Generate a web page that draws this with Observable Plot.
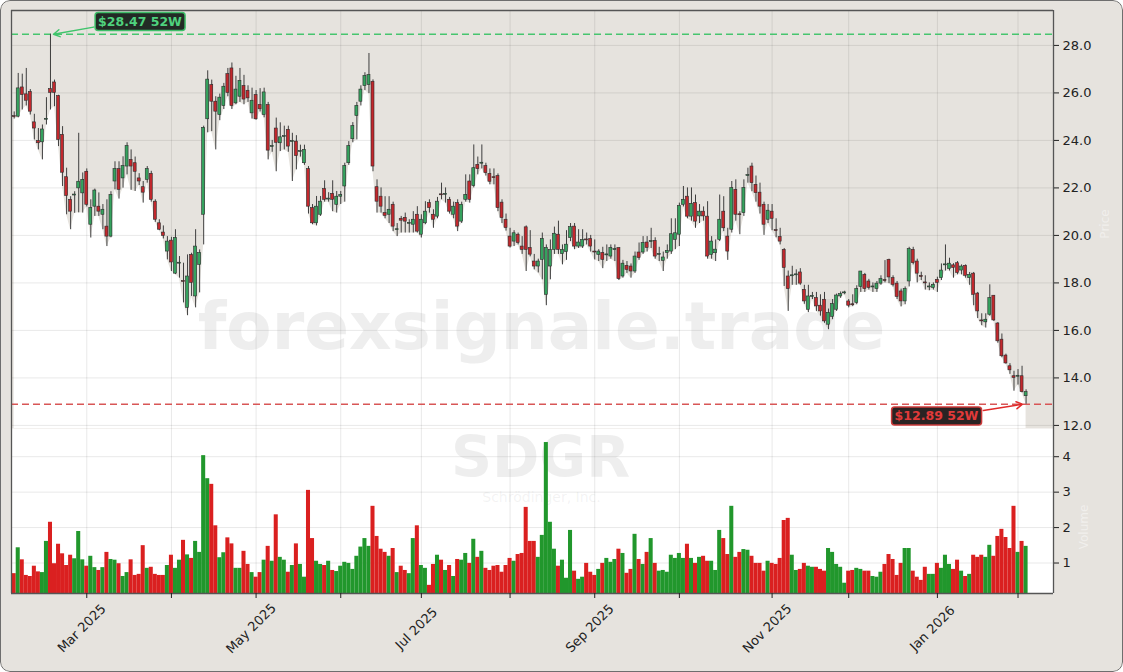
<!DOCTYPE html>
<html>
<head>
<meta charset="utf-8">
<script src="https://cdn.jsdelivr.net/npm/d3@7"></script>
<script src="https://cdn.jsdelivr.net/npm/@observablehq/plot@0.6"></script>
<style>
  html, body { margin: 0; padding: 0; background: #ffffff; }
  #fig { position: relative; width: 1123px; height: 672px; background: #e6e3de; border-radius: 10px; overflow: hidden; font-family: "DejaVu Sans", sans-serif; }
  #price, #vol { position: absolute; left: 0; }
  #price { top: 0; }
  #vol { top: 428px; }
  #border { position: absolute; left: 0; top: 0; width: 1123px; height: 672px; box-sizing: border-box; border: 1px solid #6e6e6e; border-radius: 10px; pointer-events: none; }
  .faint { position: absolute; color: rgba(255,255,255,0.45); font-size: 12px; transform: rotate(-90deg); transform-origin: center; white-space: nowrap; }
</style>
</head>
<body>
<div id="fig">
  <div id="price"></div>
  <div id="vol"></div>
  <div class="faint" style="left:1090px; top:217px;">Price</div>
  <div class="faint" style="left:1062px; top:520px;">Volume</div>
  <div id="border"></div>
</div>
<script>
// ---------------- DATA ----------------
const ticker = "SDGR";
const company = "Schrödinger, Inc.";
const firstDay = "2025-02-04";
const lastDay = "2026-02-04";
const holidays = ["2025-02-17","2025-04-18","2025-05-26","2025-06-19","2025-07-04","2025-09-01","2025-11-27","2025-12-25","2026-01-01","2026-01-19"];

const opens = [25.02,25.0,26.23,25.94,26.04,24.76,23.97,23.92,24.87,26.16,
26.44,25.87,24.23,22.45,21.5,21.68,21.98,21.77,22.68,20.45,
21.21,21.21,20.87,20.37,19.95,22.27,22.79,22.4,22.9,23.18,
23.04,22.4,22.03,22.34,22.59,21.42,20.51,20.12,19.32,19.78,
18.39,18.81,18.08,16.95,19.18,17.43,18.76,20.87,24.89,26.33,
25.63,25.07,25.45,26.79,27.03,25.56,25.84,26.29,26.09,25.14,
25.91,25.49,25.07,25.49,23.72,24.5,23.88,24.14,24.44,23.93,
23.95,23.51,23.04,22.79,21.15,20.51,20.87,21.95,21.51,21.75,
21.29,21.63,22.06,23.04,24.05,25.03,25.63,26.29,26.33,26.47,
22.03,21.63,20.94,20.87,21.29,20.22,20.7,20.74,20.49,20.45,
20.87,20.03,20.51,21.36,20.87,20.79,21.73,21.71,21.5,20.87,
21.36,20.58,21.5,22.27,22.08,22.97,23.02,22.92,22.59,22.45,
22.5,21.38,20.66,19.95,19.74,20.03,19.53,20.34,19.47,18.9,
18.69,18.97,17.5,18.69,19.39,20.03,19.21,19.3,19.89,20.37,
19.53,19.53,19.83,19.85,19.32,19.18,19.26,19.16,19.11,19.38,
19.47,18.27,18.72,18.69,18.48,19.28,19.28,19.7,19.72,19.77,
19.18,18.93,19.26,19.32,19.81,20.03,21.29,21.63,20.79,21.36,
20.8,21.0,20.79,19.18,19.25,19.81,21.0,19.95,20.24,21.92,
20.89,20.94,22.5,22.9,22.13,21.8,21.29,20.66,21.0,20.22,
19.93,19.39,18.27,18.28,18.32,18.44,17.71,16.87,17.41,17.36,
17.04,17.29,16.24,16.57,16.87,17.43,17.56,17.22,17.1,17.16,
17.83,18.34,18.06,17.81,17.74,17.97,18.12,18.97,18.2,17.97,
17.64,17.22,18.06,19.39,18.9,18.29,18.02,17.81,17.79,18.13,
18.2,18.74,18.58,18.74,18.83,18.52,18.72,18.2,18.39,17.55,
16.42,16.34,16.66,17.46,16.29,15.61,14.94,14.49,14.07,14.05,
14.07,13.23];

const highs = [25.2,26.82,26.79,27.03,26.14,25.1,24.5,24.65,25.8,28.47,
26.54,25.9,24.58,22.83,21.63,21.84,24.3,22.63,22.8,21.5,
21.95,21.79,21.3,21.5,21.84,23.1,23.1,23.31,23.9,23.6,
23.3,22.6,22.27,22.9,22.7,21.5,20.66,20.4,19.95,19.92,
20.24,19.11,18.83,19.18,19.25,20.24,19.39,24.6,26.93,26.54,
25.84,25.95,26.4,27.03,27.26,26.7,27.03,26.74,26.3,26.2,
26.1,26.18,26.2,25.6,24.0,24.94,24.74,24.6,24.6,24.3,
24.2,23.8,23.8,22.9,21.3,21.64,21.64,22.3,21.8,22.3,
21.85,21.85,23.04,23.95,24.75,25.6,26.3,26.85,27.66,26.55,
22.34,22.0,21.63,21.63,21.4,20.5,20.8,20.94,20.66,21.0,
21.21,20.87,21.42,21.5,21.08,21.6,22.2,22.0,21.6,21.4,
21.5,21.4,22.55,22.55,23.81,23.3,23.81,23.04,22.8,22.8,
22.59,21.5,20.9,20.3,20.2,20.1,19.95,20.4,20.2,19.2,
19.0,20.1,19.6,19.81,20.35,20.6,19.6,20.2,20.5,20.5,
20.24,20.24,20.1,20.0,19.81,19.4,19.5,19.6,19.6,19.6,
19.47,18.95,18.9,18.8,19.3,19.68,19.95,19.95,20.3,19.9,
19.5,19.3,19.6,20.7,20.7,21.36,22.06,22.0,22.0,21.7,
21.3,21.2,21.42,19.95,19.81,21.7,21.63,20.3,22.27,22.34,
21.0,22.34,22.83,23.04,22.5,22.2,21.4,21.3,21.3,20.7,
20.3,19.45,18.5,18.7,18.55,18.6,17.9,17.9,17.6,17.6,
17.5,17.6,16.9,17.3,17.53,17.62,17.65,17.3,17.5,17.88,
18.48,18.4,18.15,18.0,18.06,18.3,18.94,19.0,18.3,18.06,
17.74,17.83,19.5,19.5,19.0,18.45,18.3,18.0,18.0,18.24,
18.8,19.6,19.04,18.81,18.9,18.76,18.76,18.44,18.44,17.6,
16.7,16.7,17.92,17.46,16.33,15.85,15.0,14.6,14.28,14.35,
14.49,13.5];

const lows = [24.9,24.95,25.28,25.45,25.07,24.02,23.6,23.18,24.65,25.28,
25.42,23.74,22.06,20.87,20.24,20.93,20.95,20.94,21.2,19.89,
20.8,20.8,20.24,19.53,19.9,21.92,21.53,21.99,22.55,21.9,
21.85,22.1,21.36,22.2,21.4,20.55,20.2,19.85,18.97,18.48,
18.35,18.2,17.16,16.62,17.43,16.95,17.58,19.6,24.32,24.37,
23.6,24.83,25.3,25.84,25.3,25.5,25.6,25.5,25.6,24.9,
24.85,25.2,24.95,23.18,23.5,22.68,23.53,23.6,23.5,22.27,
22.76,23.3,22.95,20.9,20.45,20.4,20.8,21.4,21.4,21.0,
20.94,21.3,21.4,22.95,23.9,24.02,25.45,26.1,25.97,22.68,
20.94,20.94,20.7,20.5,20.16,19.95,20.1,20.1,20.1,20.1,
20.1,19.89,20.45,20.94,20.3,20.7,21.5,21.36,20.9,20.7,
20.16,20.5,21.4,21.36,22.0,22.55,22.8,22.5,22.13,22.13,
21.0,20.5,20.18,19.47,19.53,19.6,19.2,18.48,19.1,18.55,
18.42,18.13,17.04,18.13,19.2,19.2,18.76,18.95,19.74,19.4,
19.45,19.45,19.6,19.3,18.97,18.9,18.6,18.9,19.0,18.9,
18.1,18.2,18.4,18.2,18.4,18.95,19.2,19.3,19.45,19.0,
18.9,18.48,19.0,19.2,19.4,19.53,21.2,20.7,20.6,20.3,
20.5,20.6,19.0,19.0,18.9,19.74,20.16,18.95,20.1,20.6,
20.03,20.8,22.2,21.84,21.4,20.9,20.0,20.5,20.2,19.9,
19.6,17.85,16.8,17.9,17.9,17.9,17.1,16.75,17.3,16.8,
16.6,16.3,16.03,16.45,16.8,17.35,17.5,16.95,17.0,17.08,
17.6,17.6,17.7,17.6,17.6,17.9,18.0,17.97,17.83,17.3,
16.99,17.08,17.83,18.76,18.0,18.1,17.7,17.67,17.7,17.6,
18.1,18.5,18.5,18.2,18.34,18.34,18.2,17.9,17.04,16.5,
16.2,16.1,16.6,16.38,15.46,14.85,14.58,14.15,13.44,13.7,
13.37,12.89];

const closes = [24.98,26.19,25.91,25.67,25.21,24.5,23.88,24.46,24.91,26.0,
26.0,24.02,22.64,21.66,21.0,21.72,22.26,22.34,21.29,21.16,
21.89,21.0,21.08,19.95,21.7,22.79,21.92,22.92,23.76,22.9,
22.68,22.27,21.8,22.79,21.5,20.66,20.24,19.98,19.74,18.86,
19.89,18.85,18.04,18.27,18.0,19.53,19.26,24.53,26.56,25.63,
25.21,25.8,26.26,26.0,25.45,26.14,26.51,25.72,25.77,25.67,
24.89,25.31,26.02,23.57,23.76,23.9,24.13,24.18,23.74,23.97,
23.34,23.55,23.6,21.21,20.51,21.21,21.42,21.5,21.55,21.5,
21.63,21.7,22.92,23.76,24.6,25.45,26.14,26.71,26.75,22.9,
21.42,21.21,20.82,21.08,20.37,20.26,20.62,20.58,20.53,20.66,
20.16,20.66,21.0,21.15,20.66,21.42,21.69,21.75,21.0,21.21,
20.37,21.29,21.71,21.5,22.83,22.79,23.06,22.62,22.26,22.41,
21.15,20.73,20.31,19.53,20.09,19.68,19.39,19.39,19.19,18.69,
18.9,19.85,19.47,19.39,20.07,19.39,19.39,19.61,20.35,19.53,
19.7,19.81,19.79,19.53,19.28,19.32,18.97,19.2,19.47,19.42,
18.16,18.81,18.55,18.48,19.11,19.05,19.68,19.47,19.76,19.11,
19.22,19.07,19.35,20.05,20.09,21.24,21.5,20.79,21.33,20.58,
21.0,20.8,19.11,19.74,19.4,20.66,20.3,19.32,21.99,20.87,
20.85,21.99,22.54,22.2,21.78,21.21,20.45,21.04,20.7,20.18,
19.74,18.63,17.74,18.32,18.36,17.97,17.22,17.43,17.45,17.01,
16.8,16.38,16.74,17.11,17.47,17.53,17.6,17.04,17.06,17.74,
18.48,17.74,17.79,17.85,17.97,18.16,18.08,18.23,17.92,17.41,
17.22,17.74,19.42,18.83,18.39,18.25,17.98,17.85,17.92,18.0,
18.52,18.78,18.81,18.63,18.42,18.69,18.3,18.34,17.5,16.8,
16.38,16.45,17.36,16.42,15.54,14.91,14.61,14.32,14.0,14.09,
13.4,13.4];

// volume in millions of shares
const volumes = [0.70,1.43,1.09,0.65,0.62,0.91,0.75,0.73,1.61,2.15,
0.98,1.53,1.26,0.93,1.22,1.12,1.89,1.09,0.91,1.19,
0.87,0.79,0.87,1.30,1.10,1.08,0.98,0.62,0.73,1.09,
0.65,0.68,1.49,0.85,0.88,0.68,0.65,0.65,0.93,1.22,
0.85,1.08,1.64,1.23,1.13,1.61,1.30,4.03,3.38,3.22,
2.05,1.15,1.29,1.71,1.54,0.85,0.85,1.33,0.96,0.73,
0.60,0.73,1.08,1.47,1.05,2.36,1.16,1.08,0.74,0.93,
1.54,0.96,0.60,3.05,1.69,1.05,0.96,0.93,1.05,0.79,
0.76,0.91,1.02,0.99,0.82,1.19,1.45,1.69,1.47,2.60,
1.75,1.39,1.30,1.19,1.41,0.73,0.91,0.79,0.70,1.69,
2.05,0.93,0.85,0.37,0.96,1.22,1.08,0.79,0.93,0.62,
1.10,1.08,1.27,0.99,1.67,1.16,1.33,0.85,0.79,0.91,
0.93,0.74,0.93,1.13,1.05,1.24,1.27,2.57,1.61,1.61,
1.16,1.78,4.40,2.15,1.39,0.91,1.08,0.57,1.92,0.77,
0.54,0.60,0.99,0.74,0.65,0.82,0.99,1.13,1.02,1.10,
1.39,1.27,0.71,0.82,1.81,1.10,0.96,1.30,1.69,0.99,
0.77,0.79,0.74,1.22,1.13,1.27,1.13,1.53,1.13,0.99,
1.16,1.19,1.05,1.05,0.79,1.92,1.69,1.24,2.60,1.16,
1.30,1.38,1.36,1.19,0.99,0.99,0.77,1.05,0.99,0.96,
1.13,2.20,2.26,1.22,0.79,0.82,0.99,0.91,0.88,0.88,
0.82,0.77,1.41,1.30,0.96,0.88,0.43,0.77,0.79,0.85,
0.82,0.77,0.77,0.62,0.60,0.74,0.96,1.24,1.10,0.65,
0.99,1.41,1.41,0.77,0.60,0.51,0.88,0.68,0.68,0.99,
0.85,1.22,0.96,0.82,1.08,0.77,0.62,0.68,1.22,1.16,
1.22,1.16,1.50,1.19,1.75,1.95,1.72,1.41,2.60,1.30,
1.61,1.47];

const priceTicks = [12, 14, 16, 18, 20, 22, 24, 26, 28];
const volumeTicks = [1, 2, 3, 4];

// ---------------- BUILD ----------------
function tradingDays() {
  const out = [];
  let d = new Date(firstDay + "T00:00:00Z");
  const end = new Date(lastDay + "T00:00:00Z");
  while (d <= end) {
    const s = d.toISOString().slice(0, 10);
    const w = d.getUTCDay();
    if (w !== 0 && w !== 6 && !holidays.includes(s)) out.push(new Date(d));
    d = new Date(d.getTime() + 864e5);
  }
  return out;
}
const days = tradingDays();
const n = Math.min(opens.length, days.length);
const candles = d3.range(n).map(i => ({
  i, date: days[i], open: opens[i], high: highs[i], low: lows[i], close: closes[i],
  volume: volumes[i], up: closes[i] >= opens[i]
}));

const monthTicks = [];
for (let i = 1; i < n; i++) {
  if (days[i].getUTCMonth() !== days[i - 1].getUTCMonth()) monthTicks.push({i, date: days[i]});
}
const fmt = d3.utcFormat("%b %Y");
const labelTicks = monthTicks.filter(d => d.date.getUTCMonth() % 2 === 0).map(d => ({i: d.i, label: fmt(d.date)}));
const monthIdx = monthTicks.map(d => d.i);

const hiIdx = d3.maxIndex(candles, d => d.high);
const loIdx = d3.minIndex(candles, d => d.low);
const hi = candles[hiIdx].high;
const lo = candles[loIdx].low;

const xDomain = [-0.67, 257.8];
const yDomain = [lo - 1.02, hi + 1.0];
const vDomain = [0.14, d3.max(volumes) * 1.09];

const GREEN = "#35a25e", RED = "#c2282d";
const VGREEN = "#21972c", VRED = "#da2020";
const baseStyle = {background: "transparent", overflow: "visible", fontFamily: "DejaVu Sans, sans-serif", fontSize: "13px", color: "#222"};

const price = Plot.plot({
  width: 1123, height: 428,
  marginLeft: 11, marginRight: 70, marginTop: 10, marginBottom: 0,
  style: baseStyle,
  x: {domain: xDomain, axis: null},
  y: {domain: yDomain, axis: null},
  marks: [
    Plot.areaY(candles, {x: d => d.i, y1: yDomain[0], y2: d => d.low, fill: "#ffffff"}),
    Plot.gridX(monthIdx, {x: d => d, stroke: "#000", strokeOpacity: 0.09, strokeWidth: 1}),
    Plot.gridY(priceTicks, {y: d => d, stroke: "#000", strokeOpacity: 0.09, strokeWidth: 1}),
    Plot.text(["forexsignale.trade"], {text: d => d, frameAnchor: "middle", dx: 9, dy: 108, fontSize: 66, fontWeight: "bold", fill: "#9a9a9a", fillOpacity: 0.17}),
    Plot.ruleY([hi], {y: d => d, stroke: "#47c56f", strokeWidth: 1.6, strokeDasharray: "7,4"}),
    Plot.ruleY([lo], {y: d => d, stroke: "#d85656", strokeWidth: 1.6, strokeDasharray: "7,4"}),
    Plot.ruleX(candles, {x: d => d.i, y1: d => d.low, y2: d => d.high, stroke: "#3e3e3e", strokeWidth: 1}),
    Plot.rect(candles, {x1: d => d.i - 0.37, x2: d => d.i + 0.37, y1: d => d.open, y2: d => d.close,
      fill: d => d.up ? GREEN : RED, stroke: "#2a2a2a", strokeWidth: 0.6}),
    Plot.ruleX(xDomain, {x: d => d, stroke: "#555", strokeWidth: 1.3}),
    Plot.ruleY([yDomain[1]], {y: d => d, stroke: "#555", strokeWidth: 1.3}),
    Plot.axisY({ticks: priceTicks, anchor: "right", tickSize: 5, tickPadding: 4, tickFormat: d => d.toFixed(1), label: null, fontSize: 13}),
    Plot.arrow([hiIdx], {x1: d => d + 10.7, y1: hi + 0.3, x2: d => d + 0.75, y2: hi, stroke: "#3fc46b", strokeWidth: 1.5, headLength: 7}),
    Plot.arrow([loIdx], {x1: d => d - 10.6, y1: lo - 0.26, x2: d => d - 0.9, y2: lo, stroke: "#e02a2a", strokeWidth: 1.5, headLength: 7}),
    Plot.text([hiIdx], {x: d => d, y: hi, text: () => `$${hi.toFixed(2)} 52W`, dx: 89.5, dy: -12.3, fill: "#4fd27e", fontWeight: "bold", fontSize: 12.5}),
    Plot.text([loIdx], {x: d => d, y: lo, text: () => `$${lo.toFixed(2)} 52W`, dx: -89.6, dy: 12.2, fill: "#e23a3a", fontWeight: "bold", fontSize: 12.5})
  ]
});

const vol = Plot.plot({
  width: 1123, height: 244,
  marginLeft: 11, marginRight: 70, marginTop: 0, marginBottom: 79,
  style: baseStyle,
  x: {domain: xDomain},
  y: {domain: vDomain},
  marks: [
    Plot.frame({fill: "#ffffff", stroke: "none"}),
    Plot.gridX(monthIdx, {x: d => d, stroke: "#000", strokeOpacity: 0.09, strokeWidth: 1}),
    Plot.gridY(volumeTicks, {y: d => d, stroke: "#000", strokeOpacity: 0.09, strokeWidth: 1}),
    Plot.text([ticker], {text: d => d, frameAnchor: "middle", dx: 8, dy: -52.5, fontSize: 57, fontWeight: "bold", fill: "#9a9a9a", fillOpacity: 0.17}),
    Plot.text([company], {text: d => d, frameAnchor: "middle", dx: 9, dy: -13, fontSize: 14, fill: "#9a9a9a", fillOpacity: 0.12}),
    Plot.rect(candles, {x1: d => d.i - 0.5, x2: d => d.i + 0.5, y1: vDomain[0], y2: d => d.volume, fill: d => d.up ? VGREEN : VRED}),
    Plot.ruleX(xDomain, {x: d => d, stroke: "#555", strokeWidth: 1.3}),
    Plot.ruleY([vDomain[0]], {y: d => d, stroke: "#555", strokeWidth: 1.3}),
    Plot.axisY({ticks: volumeTicks, anchor: "right", tickSize: 5, tickPadding: 4, tickFormat: d => String(d), label: null, fontSize: 13}),
    Plot.axisX({ticks: monthIdx, anchor: "bottom", tickSize: 5, tickFormat: () => "", label: null}),
    Plot.text(labelTicks, {x: d => d.i, text: d => d.label, frameAnchor: "bottom", dy: 38, dx: -2, rotate: -45, textAnchor: "middle", fontSize: 13, fill: "#222"})
  ]
});

document.getElementById("price").appendChild(price);
document.getElementById("vol").appendChild(vol);

// label boxes behind the 52-week annotations
d3.select(price).selectAll("text").each(function() {
  const t = this.textContent || "";
  if (!/52W$/.test(t)) return;
  const isHigh = t.startsWith(`$${hi.toFixed(2)}`);
  const bb = this.getBBox();
  const r = document.createElementNS("http://www.w3.org/2000/svg", "rect");
  r.setAttribute("x", bb.x - 3);
  r.setAttribute("y", bb.y - 1.5);
  r.setAttribute("width", bb.width + 6);
  r.setAttribute("height", bb.height + 3);
  r.setAttribute("rx", 3);
  r.setAttribute("fill", isHigh ? "#222a25" : "#2a2323");
  r.setAttribute("stroke", isHigh ? "#3fbf69" : "#cc3b3b");
  r.setAttribute("stroke-width", 1.5);
  const tr = this.getAttribute("transform");
  if (tr) r.setAttribute("transform", tr);
  this.parentNode.insertBefore(r, this);
});
</script>
</body>
</html>
